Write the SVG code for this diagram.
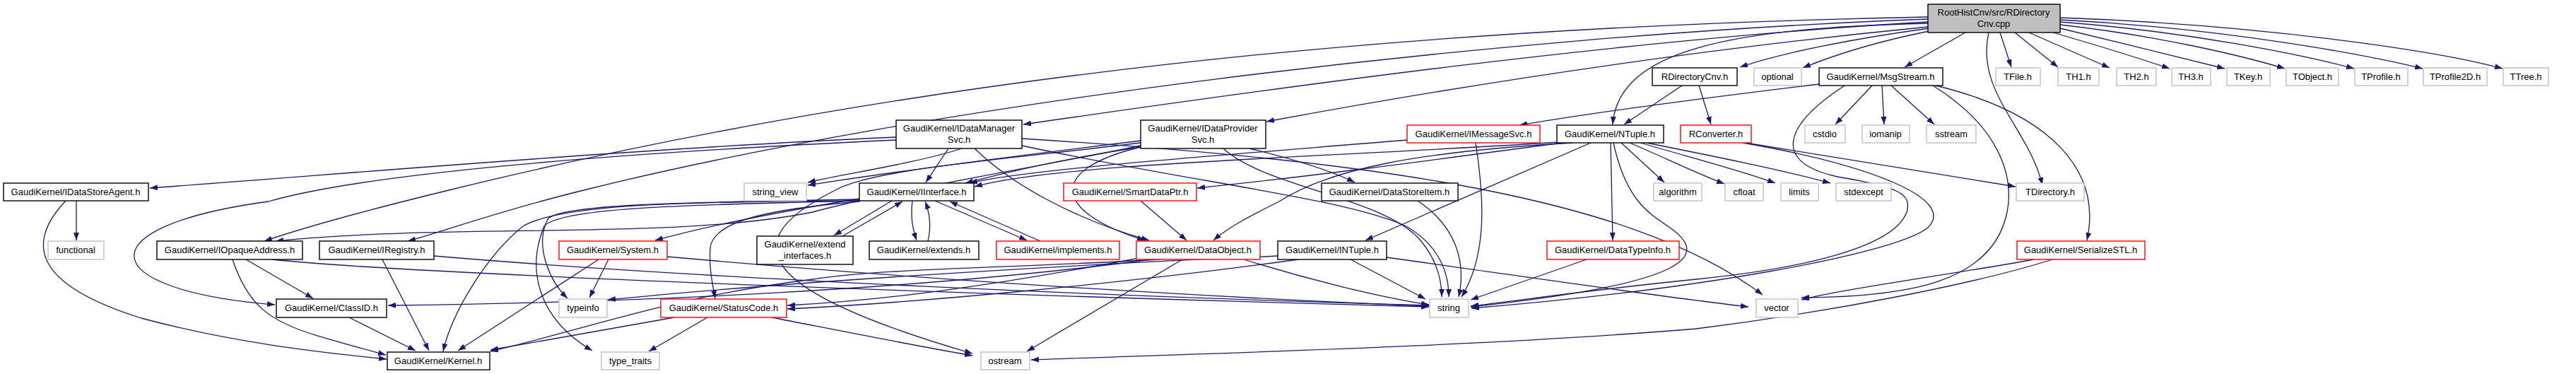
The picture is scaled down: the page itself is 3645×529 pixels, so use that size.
<svg xmlns="http://www.w3.org/2000/svg" width="3645" height="529" viewBox="0 0 3645 529">
<defs>
<marker id="a" viewBox="0 0 11 8" refX="11" refY="4" markerWidth="11" markerHeight="8" orient="auto" markerUnits="userSpaceOnUse"><path d="M0,0L11,4L0,8z" fill="#191970"/></marker>
<style>
text{font-family:"Liberation Sans",Arial,sans-serif;font-size:13px;fill:#000;text-anchor:middle}
rect{fill:#fff;stroke-width:1.4}
.k rect{stroke:#000}
.g rect{stroke:#bfbfbf}
.r rect{stroke:#ff0000}
.root rect{fill:#bfbfbf;stroke:#000}
#edges path{fill:none;stroke:#191970;stroke-width:1.3;marker-end:url(#a)}
</style>
</defs>
<rect x="0" y="0" width="3645" height="529" style="fill:#fff;stroke:none"/>
<g id="edges">
<path d="M2730,40 C2620,55 2520,75 2462,95"/>
<path d="M2730,44 C2650,60 2590,80 2551,96"/>
<path d="M2781,46 L2695,95"/>
<path d="M2830,46 L2846,95"/>
<path d="M2851,46 L2912,95"/>
<path d="M2871,46 L2985,96"/>
<path d="M2905,46 C2960,62 3020,80 3070,97"/>
<path d="M2915,40 C2990,58 3080,80 3148,97"/>
<path d="M2915,35 C3050,50 3170,78 3233,97"/>
<path d="M2915,31 C3100,45 3260,78 3331,97"/>
<path d="M2915,28 C3150,40 3350,78 3428,97"/>
<path d="M2915,25 C3200,35 3450,72 3541,97"/>
<path d="M2814,46 C2795,130 2870,180 2890,262"/>
<path d="M2728,33 C2450,40 2290,70 2282,176"/>
<path d="M2728,38 C2400,70 2100,115 1792,172"/>
<path d="M2728,31 C2300,55 1800,125 1448,176"/>
<path d="M2728,27 C2100,50 1300,150 822,270 C700,300 620,330 577,341"/>
<path d="M2728,24 C2000,38 1300,105 631,270 C520,297 430,322 374,341"/>
<path d="M2574,119 C2400,140 2250,160 2150,177"/>
<path d="M2649,121 L2597,176"/>
<path d="M2663,121 L2666,176"/>
<path d="M2676,121 L2737,176"/>
<path d="M2610,121 C2520,180 2510,230 2600,250 C2690,265 2705,275 2698,300 C2680,350 2550,380 2400,395 C2250,410 2150,425 2081,433"/>
<path d="M2739,121 C2900,160 2975,240 2953,340"/>
<path d="M2735,121 C2830,180 2850,250 2840,300 C2820,400 2700,420 2549,421"/>
<path d="M2380,121 L2298,176"/>
<path d="M2404,121 L2421,176"/>
<path d="M2470,202 L2852,264"/>
<path d="M2466,202 C2640,232 2770,280 2728,322 C2680,360 2400,410 2082,436"/>
<path d="M2251,202 L1932,340"/>
<path d="M2279,202 L2282,340"/>
<path d="M2294,202 L2355,258"/>
<path d="M2306,202 C2360,225 2400,245 2440,260"/>
<path d="M2321,202 C2400,225 2460,240 2512,259"/>
<path d="M2330,202 C2420,220 2520,240 2590,259"/>
<path d="M2283,202 C2300,280 2330,300 2360,320 C2420,360 2400,400 2081,434"/>
<path d="M2210,202 C2000,230 1850,250 1694,266"/>
<path d="M2225,202 C2000,215 1880,240 1810,285 C1770,305 1740,320 1717,340"/>
<path d="M2220,200 C1900,222 1500,230 1379,264"/>
<path d="M2088,202 C2100,280 2105,360 2068,420"/>
<path d="M1991,198 C1700,222 1450,240 1372,259"/>
<path d="M2006,284 C2060,320 2075,370 2064,420"/>
<path d="M2245,367 L2081,424"/>
<path d="M1911,367 L2017,423"/>
<path d="M1962,364 C2150,390 2350,420 2474,434"/>
<path d="M1837,367 C1600,400 1300,428 1114,437"/>
<path d="M1808,362 C1500,375 1100,400 860,424"/>
<path d="M1673,367 L1453,497"/>
<path d="M1641,367 C1400,380 1250,380 1150,395 C950,420 850,460 694,497"/>
<path d="M1630,367 C1300,410 900,428 549,432"/>
<path d="M1612,365 C1400,405 1250,425 1114,432"/>
<path d="M1760,367 C1850,395 1950,420 2022,431"/>
<path d="M1614,284 L1679,340"/>
<path d="M1268,194 C900,210 500,245 212,266"/>
<path d="M1268,198 C800,220 500,250 380,285 C120,320 130,410 389,431"/>
<path d="M1361,210 C1300,230 1200,245 1143,258"/>
<path d="M1342,210 L1310,258"/>
<path d="M1379,210 C1430,260 1520,310 1626,340"/>
<path d="M1446,206 C1700,260 1900,280 1990,320 C2040,350 2050,390 2050,420"/>
<path d="M1446,196 C1900,225 2300,270 2494,417"/>
<path d="M1614,199 C1400,225 1250,245 1143,262"/>
<path d="M1614,208 C1500,225 1420,245 1366,259"/>
<path d="M1614,208 C1480,240 1490,300 1620,340"/>
<path d="M1768,210 C1830,225 1880,240 1917,258"/>
<path d="M1731,210 C1790,265 1960,280 2010,340 C2035,370 2040,400 2040,420"/>
<path d="M1614,206 C1450,240 1260,270 1150,300 C950,340 650,315 390,341"/>
<path d="M1614,202 C1400,228 1230,240 1180,270 C1020,350 1100,420 1376,500"/>
<path d="M1291,284 C1288,310 1292,325 1297,340"/>
<path d="M1313,341 C1318,320 1315,300 1309,285"/>
<path d="M1323,284 L1453,340"/>
<path d="M1472,341 L1344,285"/>
<path d="M1262,284 L1180,333"/>
<path d="M1192,334 L1277,285"/>
<path d="M1216,281 C1100,300 1000,320 927,340"/>
<path d="M1216,284 C950,285 790,290 740,320 C690,360 640,440 627,497"/>
<path d="M1216,282 C950,286 790,290 775,310 C755,350 780,400 803,422"/>
<path d="M1216,284 C950,290 790,295 770,320 C745,380 760,450 838,496"/>
<path d="M1216,285 C1100,295 1010,310 1005,350 C1003,380 1008,400 1012,422"/>
<path d="M847,367 L648,496"/>
<path d="M861,367 L834,421"/>
<path d="M944,363 C1300,395 1700,420 2022,433"/>
<path d="M954,449 L694,495"/>
<path d="M1001,449 L918,497"/>
<path d="M1092,449 C1200,470 1300,490 1376,503"/>
<path d="M2878,367 C2750,390 2600,410 2549,424"/>
<path d="M2904,367 C2800,400 2600,440 2400,465 C2100,490 1700,500 1459,509"/>
<path d="M348,367 L443,422"/>
<path d="M329,367 C350,430 380,455 450,475 C490,487 520,495 546,502"/>
<path d="M385,367 C600,390 1500,420 2022,434"/>
<path d="M541,367 L607,496"/>
<path d="M614,362 C1000,395 1600,420 2022,432"/>
<path d="M494,449 L588,496"/>
<path d="M108,284 L108,340"/>
<path d="M93,284 C40,340 40,400 200,450 C330,485 450,498 547,508"/>
</g>
<g id="n-root" class="root"><rect x="2728" y="6" width="187" height="40"/><text x="2821" y="22">RootHistCnv/src/RDirectory</text><text x="2821" y="38">Cnv.cpp</text></g>
<g id="n-rdircnvh" class="k"><rect x="2338" y="96" width="120" height="25"/><text x="2398" y="113">RDirectoryCnv.h</text></g>
<g id="n-optional" class="g"><rect x="2482" y="96" width="67" height="25"/><text x="2515" y="113">optional</text></g>
<g id="n-msgstream" class="k"><rect x="2574" y="96" width="175" height="25"/><text x="2661" y="113">GaudiKernel/MsgStream.h</text></g>
<g id="n-tfile" class="g"><rect x="2824" y="96" width="63" height="25"/><text x="2855" y="113">TFile.h</text></g>
<g id="n-th1" class="g"><rect x="2912" y="96" width="58" height="25"/><text x="2941" y="113">TH1.h</text></g>
<g id="n-th2" class="g"><rect x="2995" y="96" width="56" height="25"/><text x="3023" y="113">TH2.h</text></g>
<g id="n-th3" class="g"><rect x="3073" y="96" width="55" height="25"/><text x="3100" y="113">TH3.h</text></g>
<g id="n-tkey" class="g"><rect x="3151" y="96" width="61" height="25"/><text x="3181" y="113">TKey.h</text></g>
<g id="n-tobject" class="g"><rect x="3235" y="96" width="74" height="25"/><text x="3272" y="113">TObject.h</text></g>
<g id="n-tprofile" class="g"><rect x="3332" y="96" width="75" height="25"/><text x="3369" y="113">TProfile.h</text></g>
<g id="n-tprofile2d" class="g"><rect x="3429" y="96" width="90" height="25"/><text x="3474" y="113">TProfile2D.h</text></g>
<g id="n-ttree" class="g"><rect x="3542" y="96" width="64" height="25"/><text x="3574" y="113">TTree.h</text></g>
<g id="n-idms" class="k"><rect x="1268" y="170" width="178" height="40"/><text x="1357" y="186">GaudiKernel/IDataManager</text><text x="1357" y="202">Svc.h</text></g>
<g id="n-idps" class="k"><rect x="1614" y="170" width="177" height="40"/><text x="1702" y="186">GaudiKernel/IDataProvider</text><text x="1702" y="202">Svc.h</text></g>
<g id="n-imsgsvc" class="r"><rect x="1991" y="177" width="188" height="25"/><text x="2085" y="194">GaudiKernel/IMessageSvc.h</text></g>
<g id="n-ntuple" class="k"><rect x="2203" y="177" width="151" height="25"/><text x="2278" y="194">GaudiKernel/NTuple.h</text></g>
<g id="n-rconverter" class="r"><rect x="2378" y="177" width="100" height="25"/><text x="2428" y="194">RConverter.h</text></g>
<g id="n-cstdio" class="g"><rect x="2554" y="177" width="57" height="25"/><text x="2582" y="194">cstdio</text></g>
<g id="n-iomanip" class="g"><rect x="2635" y="177" width="67" height="25"/><text x="2668" y="194">iomanip</text></g>
<g id="n-sstream" class="g"><rect x="2726" y="177" width="70" height="25"/><text x="2761" y="194">sstream</text></g>
<g id="n-idsa" class="k"><rect x="5" y="259" width="205" height="25"/><text x="107" y="276">GaudiKernel/IDataStoreAgent.h</text></g>
<g id="n-stringview" class="g"><rect x="1053" y="259" width="88" height="25"/><text x="1097" y="276">string_view</text></g>
<g id="n-iinterface" class="k"><rect x="1216" y="259" width="162" height="25"/><text x="1297" y="276">GaudiKernel/IInterface.h</text></g>
<g id="n-smartdataptr" class="r"><rect x="1505" y="259" width="188" height="25"/><text x="1599" y="276">GaudiKernel/SmartDataPtr.h</text></g>
<g id="n-datastoreitem" class="k"><rect x="1870" y="259" width="193" height="25"/><text x="1966" y="276">GaudiKernel/DataStoreItem.h</text></g>
<g id="n-algorithm" class="g"><rect x="2340" y="259" width="68" height="25"/><text x="2374" y="276">algorithm</text></g>
<g id="n-cfloat" class="g"><rect x="2441" y="259" width="54" height="25"/><text x="2468" y="276">cfloat</text></g>
<g id="n-limits" class="g"><rect x="2520" y="259" width="53" height="25"/><text x="2546" y="276">limits</text></g>
<g id="n-stdexcept" class="g"><rect x="2598" y="259" width="78" height="25"/><text x="2637" y="276">stdexcept</text></g>
<g id="n-tdirectory" class="g"><rect x="2853" y="259" width="96" height="25"/><text x="2901" y="276">TDirectory.h</text></g>
<g id="n-functional" class="g"><rect x="68" y="341" width="79" height="26"/><text x="107" y="358">functional</text></g>
<g id="n-iopaque" class="k"><rect x="222" y="341" width="206" height="26"/><text x="325" y="358">GaudiKernel/IOpaqueAddress.h</text></g>
<g id="n-iregistry" class="k"><rect x="452" y="341" width="162" height="26"/><text x="533" y="358">GaudiKernel/IRegistry.h</text></g>
<g id="n-system" class="r"><rect x="791" y="341" width="153" height="26"/><text x="867" y="358">GaudiKernel/System.h</text></g>
<g id="n-extint" class="k"><rect x="1071" y="334" width="136" height="40"/><text x="1139" y="350">GaudiKernel/extend</text><text x="1139" y="366">_interfaces.h</text></g>
<g id="n-extends" class="k"><rect x="1230" y="341" width="155" height="26"/><text x="1307" y="358">GaudiKernel/extends.h</text></g>
<g id="n-implements" class="r"><rect x="1410" y="341" width="174" height="26"/><text x="1497" y="358">GaudiKernel/implements.h</text></g>
<g id="n-dataobject" class="r"><rect x="1608" y="341" width="175" height="26"/><text x="1695" y="358">GaudiKernel/DataObject.h</text></g>
<g id="n-intuple" class="k"><rect x="1808" y="341" width="154" height="26"/><text x="1885" y="358">GaudiKernel/INTuple.h</text></g>
<g id="n-datatypeinfo" class="r"><rect x="2189" y="341" width="187" height="26"/><text x="2282" y="358">GaudiKernel/DataTypeInfo.h</text></g>
<g id="n-serializestl" class="r"><rect x="2854" y="341" width="181" height="26"/><text x="2944" y="358">GaudiKernel/SerializeSTL.h</text></g>
<g id="n-classid" class="k"><rect x="391" y="423" width="156" height="26"/><text x="469" y="440">GaudiKernel/ClassID.h</text></g>
<g id="n-typeinfo" class="g"><rect x="791" y="423" width="68" height="26"/><text x="825" y="440">typeinfo</text></g>
<g id="n-statuscode" class="r"><rect x="935" y="423" width="178" height="26"/><text x="1024" y="440">GaudiKernel/StatusCode.h</text></g>
<g id="n-string" class="g"><rect x="2023" y="423" width="55" height="26"/><text x="2050" y="440">string</text></g>
<g id="n-vector" class="g"><rect x="2485" y="423" width="59" height="26"/><text x="2514" y="440">vector</text></g>
<g id="n-kernel" class="k"><rect x="548" y="498" width="145" height="25"/><text x="620" y="515">GaudiKernel/Kernel.h</text></g>
<g id="n-typetraits" class="g"><rect x="851" y="498" width="82" height="25"/><text x="892" y="515">type_traits</text></g>
<g id="n-ostream" class="g"><rect x="1388" y="498" width="69" height="25"/><text x="1422" y="515">ostream</text></g>
</svg>
